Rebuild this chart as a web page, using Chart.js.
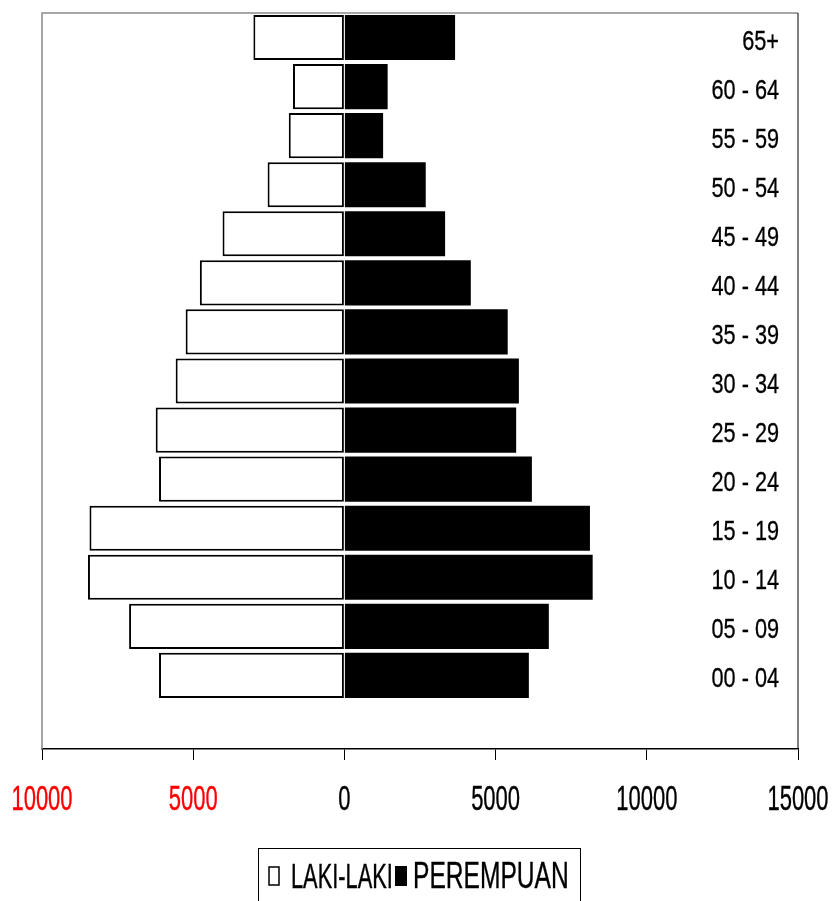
<!DOCTYPE html>
<html>
<head>
<meta charset="utf-8">
<script src="https://cdn.jsdelivr.net/npm/chart.js@4.4.0/dist/chart.umd.min.js"></script>
<style>
    html, body { margin: 0; padding: 0; background: #fff; }
    canvas { display: block; }
</style>
</head>
<body>
<canvas id="pyramid" width="836" height="901"></canvas>
<script>
// Age groups, top to bottom (the last row is an empty slot, as in the original)
const ageGroups = ['65+', '60 - 64', '55 - 59', '50 - 54', '45 - 49', '40 - 44', '35 - 39',
    '30 - 34', '25 - 29', '20 - 24', '15 - 19', '10 - 14', '05 - 09', '00 - 04', ''];
const lakiLaki = [3010, 1700, 1840, 2540, 4030, 4780, 5250, 5580, 6240, 6130, 8430, 8480, 7120, 6130, null];
const perempuan = [3660, 1430, 1280, 2690, 3330, 4180, 5400, 5770, 5680, 6200, 8120, 8210, 6760, 6100, null];
const xTicks = [-10000, -5000, 0, 5000, 10000, 15000];
const seriesNames = ['LAKI-LAKI', 'PEREMPUAN'];

const FONT = '"Liberation Sans", Arial, sans-serif';

// Text in the original is tall and narrow, so draw it stretched vertically
function tallText(ctx, text, x, baseline, size, sy, color, align) {
    ctx.save();
    ctx.font = size + 'px ' + FONT;
    ctx.fillStyle = color;
    ctx.strokeStyle = color;
    ctx.lineWidth = 0.25;
    ctx.textAlign = align;
    ctx.textBaseline = 'alphabetic';
    ctx.translate(x, baseline);
    ctx.scale(1, sy);
    ctx.fillText(text, 0, 0);
    ctx.strokeText(text, 0, 0);
    ctx.restore();
}

const decorations = {
    id: 'decorations',
    afterDraw(chart) {
        const ctx = chart.ctx;
        const area = chart.chartArea;
        const xScale = chart.scales.x;
        const yScale = chart.scales.y;

        // plot frame: grey top/left, black right
        ctx.save();
        ctx.lineWidth = 1.5;
        ctx.strokeStyle = '#8a8a8a';
        ctx.beginPath();
        ctx.moveTo(area.left, area.bottom);
        ctx.lineTo(area.left, area.top);
        ctx.lineTo(area.right, area.top);
        ctx.stroke();
        ctx.lineWidth = 1;
        ctx.strokeStyle = '#000';
        ctx.beginPath();
        ctx.moveTo(area.right, area.top);
        ctx.lineTo(area.right, area.bottom);
        ctx.stroke();
        ctx.restore();

        // age group labels on the right
        ageGroups.forEach((label, i) => {
            if (!label) return;
            const y = yScale.getPixelForValue(i);
            tallText(ctx, label, 779, y + 12, 21.7, 1.28, '#000', 'right');
        });

        // x tick labels, left side in red
        xTicks.forEach(v => {
            const x = xScale.getPixelForValue(v);
            tallText(ctx, String(Math.abs(v)), x, 810, 22, 1.58, v < 0 ? '#ff0000' : '#000', 'center');
        });

        // legend
        ctx.save();
        ctx.strokeStyle = '#000';
        ctx.lineWidth = 1;
        ctx.strokeRect(258.5, 848.5, 322, 70);
        ctx.lineWidth = 1.5;
        ctx.fillStyle = '#fff';
        ctx.fillRect(269, 867, 10, 18);
        ctx.strokeRect(269, 867, 10, 18);
        ctx.fillStyle = '#000';
        ctx.fillRect(395, 866, 12, 20);
        ctx.restore();
        tallText(ctx, seriesNames[0], 291, 888, 21.8, 1.62, '#000', 'left');
        tallText(ctx, seriesNames[1], 413, 888, 24.6, 1.5, '#000', 'left');
    }
};

new Chart(document.getElementById('pyramid'), {
    type: 'bar',
    data: {
        labels: ageGroups,
        datasets: [{
            label: seriesNames[0],
            data: lakiLaki.map(v => v === null ? null : -v),
            backgroundColor: '#ffffff',
            borderColor: '#000000',
            borderWidth: 2,
            borderSkipped: false
        }, {
            label: seriesNames[1],
            data: perempuan,
            backgroundColor: '#000000',
            borderWidth: 0
        }]
    },
    options: {
        indexAxis: 'y',
        responsive: false,
        animation: false,
        devicePixelRatio: 1,
        barPercentage: 0.92,
        categoryPercentage: 1.0,
        layout: { padding: { left: 42, right: 38, top: 13, bottom: 141 } },
        plugins: {
            legend: { display: false },
            tooltip: { enabled: false }
        },
        scales: {
            x: {
                stacked: true,
                min: -10000,
                max: 15000,
                afterBuildTicks: scale => { scale.ticks = xTicks.map(v => ({ value: v })); },
                ticks: { display: false },
                grid: { drawOnChartArea: false, drawTicks: true, tickLength: 11, color: '#000', lineWidth: 1 },
                border: { color: '#000', width: 1.5 }
            },
            y: {
                stacked: true,
                display: false
            }
        }
    },
    plugins: [decorations]
});
</script>
</body>
</html>
